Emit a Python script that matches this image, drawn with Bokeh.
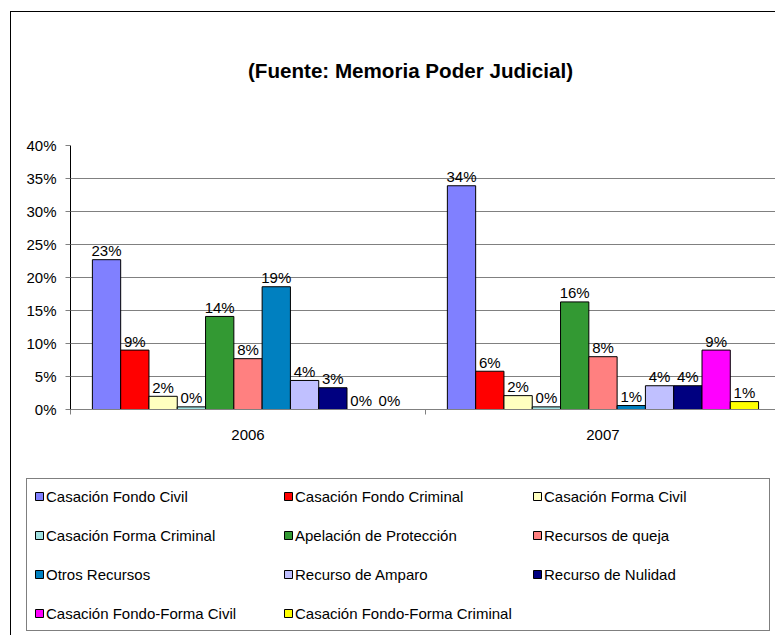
from bokeh.plotting import figure
from bokeh.layouts import column
from bokeh.models import (Range1d, FixedTicker, NumeralTickFormatter, Legend,
                          LegendItem, Label, ColumnDataSource)
from bokeh.core.properties import value
from bokeh.embed import file_html
from bokeh.resources import INLINE

# ---- data ----
years = ["2006", "2007"]
series = [
    "Casación Fondo Civil", "Casación Fondo Criminal", "Casación Forma Civil",
    "Casación Forma Criminal", "Apelación de Protección", "Recursos de queja",
    "Otros Recursos", "Recurso de Amparo", "Recurso de Nulidad",
    "Casación Fondo-Forma Civil", "Casación Fondo-Forma Criminal",
]
colors = ["#8080FF", "#FF0000", "#FFFFC0", "#A0E0E0", "#339933", "#FF8080",
          "#0080C0", "#C0C0FF", "#000080", "#FF00FF", "#FFFF00"]
v2006 = [0.227, 0.090, 0.020, 0.004, 0.141, 0.077, 0.186, 0.044, 0.033, 0.0, 0.0]
v2007 = [0.339, 0.058, 0.021, 0.004, 0.163, 0.080, 0.006, 0.036, 0.036, 0.090, 0.012]
y_ticks = [0, 0.05, 0.10, 0.15, 0.20, 0.25, 0.30, 0.35, 0.40]
title_text = "(Fuente: Memoria Poder Judicial)"

FONT = "Liberation Sans"
W = 764
values = [v2006, v2007]
n = len(series)
bw = 0.0797           # bar width as fraction of a category
x_end = 1.986         # right part of the chart is cut off, as in the original

# ---- title ----
tfig = figure(width=W, height=113, x_range=Range1d(0, 1), y_range=Range1d(0, 1),
              x_axis_location=None, y_axis_location=None, output_backend="svg",
              toolbar_location=None, min_border=0, frame_align=False)
tfig.outline_line_color = None
tfig.grid.visible = False
tfig.add_layout(Label(x=399, y=55, x_units="screen", y_units="screen", text=title_text,
                      text_align="center", text_baseline="alphabetic",
                      text_font=FONT, text_font_size="20.6px", text_font_style="bold",
                      text_color="black"))

# ---- main chart ----
p = figure(width=W, height=350, x_range=Range1d(0, x_end), y_range=Range1d(0, 0.4),
           output_backend="svg", toolbar_location=None, frame_align=False,
           min_border_left=59, min_border_right=0, min_border_top=20, min_border_bottom=66)
p.outline_line_color = None

# ---- legend figure (shares the bar data; its y range shows no bars) ----
lfig = figure(width=W, height=160, x_range=Range1d(0, x_end), y_range=Range1d(1, 2),
              x_axis_location=None, y_axis_location=None, output_backend="svg",
              toolbar_location=None, min_border=0, frame_align=False)
lfig.outline_line_color = None
lfig.grid.visible = False

lab_x, lab_y, lab_t = [], [], []
items = []
for j, name in enumerate(series):
    xs, tops = [], []
    for yi in range(len(years)):
        v = values[yi][j]
        x = yi + 0.5 + (j - (n - 1) / 2) * bw
        xs.append(x)
        tops.append(v if v > 0 else float("nan"))
        lab_x.append(x)
        lab_y.append(v)
        lab_t.append(f"{v:.0%}")
    src = ColumnDataSource(dict(x=xs, top=tops))
    p.vbar(x="x", top="top", bottom=0, width=bw, source=src,
           fill_color=colors[j], line_color="black", line_width=1)
    r = lfig.vbar(x="x", top="top", bottom=0, width=bw, source=src,
                  fill_color=colors[j], line_color="black", line_width=1)
    items.append(LegendItem(label=name, renderers=[r], index=1))

lsrc = ColumnDataSource(dict(x=lab_x, y=lab_y, t=lab_t))
p.text(x="x", y="y", text="t", source=lsrc, text_align="center",
       text_baseline="alphabetic", y_offset=-9, text_font=value(FONT),
       text_font_size="15px", text_color="black")

p.yaxis.ticker = FixedTicker(ticks=y_ticks)
p.yaxis.formatter = NumeralTickFormatter(format="0%")
p.yaxis.axis_line_color = "black"
p.yaxis.major_tick_line_color = "#808080"
p.yaxis.major_tick_in = 0
p.yaxis.major_tick_out = 5
p.yaxis.minor_tick_line_color = None
p.yaxis.major_label_standoff = 9
p.yaxis.major_label_text_font = FONT
p.yaxis.major_label_text_font_size = "15px"
p.yaxis.major_label_text_color = "black"

p.xaxis.ticker = FixedTicker(ticks=[0.5, 1.5], minor_ticks=[0, 1, 2])
p.xaxis.major_label_overrides = {0.5: years[0], 1.5: years[1]}
p.xaxis.major_tick_line_color = None
p.xaxis.major_tick_out = 0
p.xaxis.major_tick_in = 0
p.xaxis.minor_tick_line_color = "#808080"
p.xaxis.minor_tick_in = 0
p.xaxis.minor_tick_out = 5
p.xaxis.axis_line_color = "#808080"
p.xaxis.major_label_standoff = 15
p.xaxis.major_label_text_font = FONT
p.xaxis.major_label_text_font_size = "15px"
p.xaxis.major_label_text_color = "black"

p.xgrid.visible = False
p.ygrid.ticker = FixedTicker(ticks=y_ticks)
p.ygrid.grid_line_color = "#808080"
p.ygrid.grid_line_width = 1

legend = Legend(items=items, location=(15, 4), orientation="horizontal", ncols=3,
                label_text_font=FONT, label_text_font_size="15px", label_text_color="black",
                glyph_width=10, glyph_height=10, label_standoff=2, label_height=20,
                label_width=218, spacing=19, padding=7, margin=0,
                border_line_color="black", border_line_width=1,
                background_fill_color="white", background_fill_alpha=1)
lfig.add_layout(legend)

page = column(tfig, p, lfig, spacing=0)
page.styles = {"border-top": "1px solid black", "border-left": "1px solid black",
               "margin-left": "10px", "margin-top": "11px"}

open("out.html", "w").write(file_html(page, INLINE))
